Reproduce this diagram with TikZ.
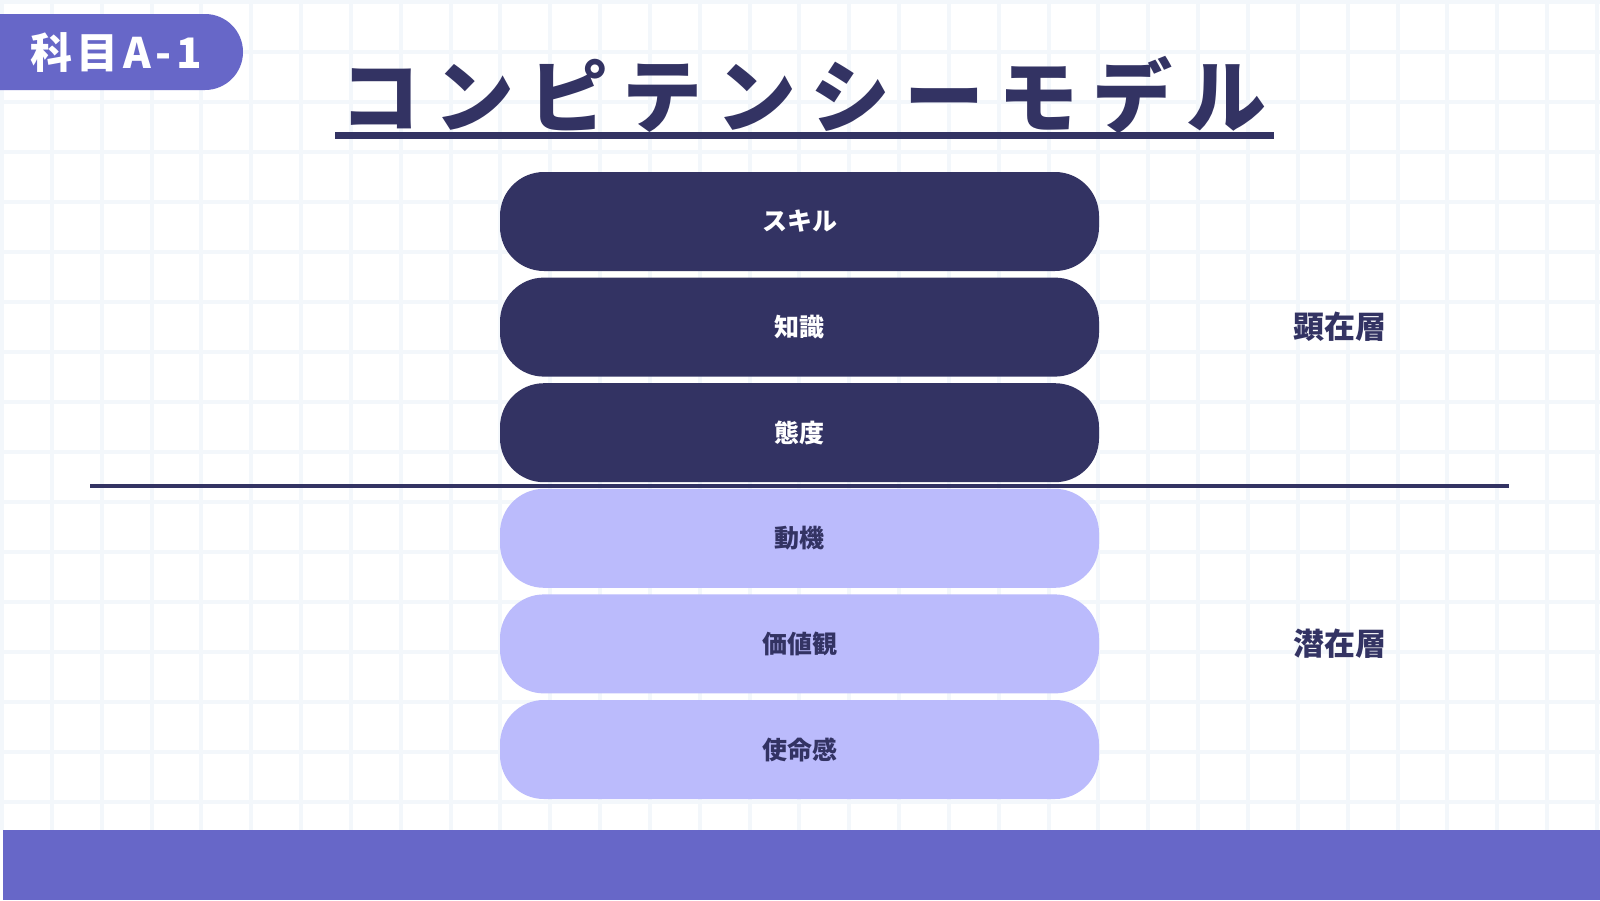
\documentclass[tikz,border=0pt]{standalone}
\usepackage{fontspec}
\usepackage{xcolor}
\usetikzlibrary{positioning}
\setmainfont{Noto Sans CJK JP}
\definecolor{navy}{HTML}{333363}
\definecolor{violet}{HTML}{6767C8}
\definecolor{lilac}{HTML}{BBBBFC}
\definecolor{gridgray}{HTML}{F3F7FB}

\begin{document}
\begin{tikzpicture}[x=0.5pt, y=-0.5pt,
  layer/.style={rounded corners=22pt, minimum width=299.5pt, minimum height=49.5pt,
    inner sep=0pt, outer sep=0pt, font=\bfseries\fontsize{12.5}{15}\selectfont},
  upper/.style={layer, fill=navy, text=white},
  lower/.style={layer, fill=lilac, text=navy},
  side/.style={inner sep=0pt, text=navy, font=\bfseries\fontsize{15.5}{18}\selectfont}]
  % canvas
  \useasboundingbox (0,0) rectangle (1600,900);
  \fill[white] (0,0) rectangle (1600,900);

  % background grid
  \foreach \i in {0,...,32}
    \draw[gridgray, line width=2pt] (2+49.84*\i,0) -- (2+49.84*\i,830);
  \foreach \j in {0,...,16}
    \draw[gridgray, line width=2pt] (0,2+50*\j) -- (1600,2+50*\j);

  % bottom band
  \fill[violet] (2.5,830) rectangle (1600,900);

  % badge and title
  \fill[violet, rounded corners=19pt] (-60,14) rectangle (243,90);
  \node[text=white, inner sep=0pt,
    font=\bfseries\fontsize{21}{24}\selectfont\addfontfeature{LetterSpace=10.7}] (badge) at (116,53) {科目A-1};
  \node[text=navy, inner sep=0pt,
    font=\bfseries\fontsize{40}{46}\selectfont\addfontfeature{LetterSpace=17.5}] (title) at (803,95) {コンピテンシーモデル};
  \draw[navy, line width=3.5pt] (335,135.5) -- (1274,135.5);

  % divider
  \coordinate (divL) at (90,485.5);
  \coordinate (divR) at (1509,485.5);
  \draw[navy, line width=2pt] (divL) -- (divR);

  % layers
  \node[upper] (skill) at (799.5,221.5) {スキル};
  \node[upper, below=3.3pt of skill] (knowledge) {知識};
  \node[upper, below=3.3pt of knowledge] (attitude) {態度};
  \node[lower, below=3.3pt of attitude] (motive) {動機};
  \node[lower, below=3.3pt of motive] (values) {価値観};
  \node[lower, below=3.3pt of values] (mission) {使命感};

  % side labels
  \node[side, right=97pt of knowledge] (overt) {顕在層};
  \node[side, right=97pt of values] (latent) {潜在層};
\end{tikzpicture}
\end{document}
